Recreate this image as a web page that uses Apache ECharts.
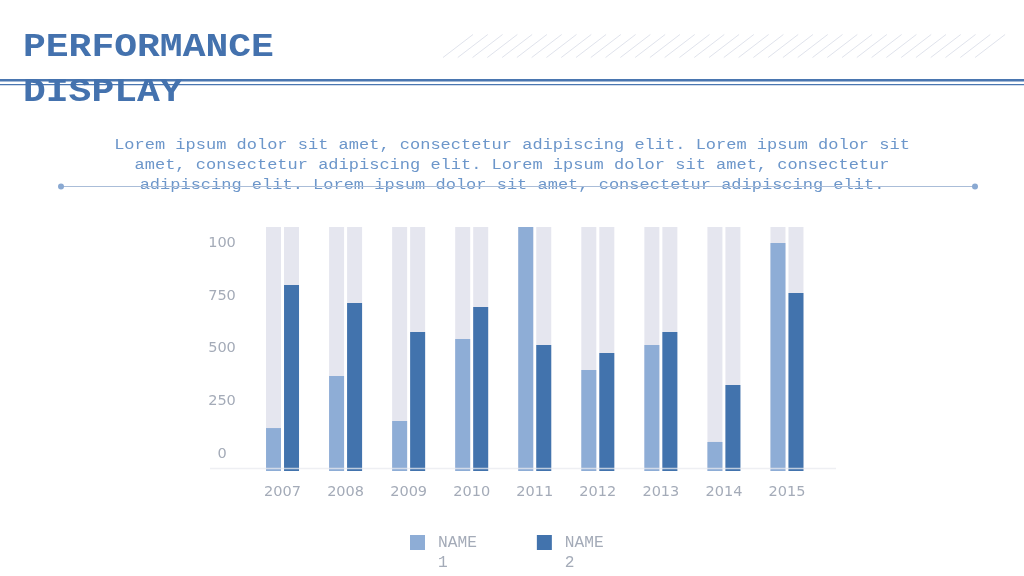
<!DOCTYPE html>
<html>
<head>
<meta charset="utf-8">
<script src="https://cdn.jsdelivr.net/npm/echarts@6/dist/echarts.min.js"></script>
<style>html,body{margin:0;padding:0;background:#fff;}#c{width:1024px;height:576px;}</style>
</head>
<body>
<div id="c"></div>
<script>
var categories = ['2007','2008','2009','2010','2011','2012','2013','2014','2015'];
var seriesNames = ['NAME 1','NAME 2'];
var name1Values = [176, 389, 205, 541, 1000, 414, 516, 119, 934];
var name2Values = [762, 689, 570, 672, 516, 484, 570, 352, 730];
var yTickValues = [0, 250, 500, 750, 1000];
var yTickLabels = ['0', '250', '500', '750', '100'];
var titleLines = ['PERFORMANCE', 'DISPLAY'];
var bodyLines = [
  'Lorem ipsum dolor sit amet, consectetur adipiscing elit. Lorem ipsum dolor sit',
  'amet, consectetur adipiscing elit. Lorem ipsum dolor sit amet, consectetur',
  'adipiscing elit. Lorem ipsum dolor sit amet, consectetur adipiscing elit.'
];

var chart = echarts.init(document.getElementById('c'));

var hatch = [];
for (var i = 0; i < 37; i++) {
  var x0 = 443 + i * 14.78;
  hatch.push({
    type: 'line', silent: true,
    shape: {x1: x0, y1: 57.5, x2: x0 + 30, y2: 34.5},
    style: {stroke: '#e0e3ec', lineWidth: 1}
  });
}

var sY = 0.87;
var graphics = hatch.concat([
  {type: 'rect', silent: true, shape: {x: 0, y: 79, width: 1024, height: 2.5}, style: {fill: '#4a76b0'}},
  {type: 'rect', silent: true, shape: {x: 0, y: 84, width: 1024, height: 1.2}, style: {fill: '#4a76b0'}},
  {type: 'text', silent: true, x: 23, y: 25, scaleY: sY, z: 5,
    style: {text: titleLines.join('\n'), align: 'left', verticalAlign: 'top',
      font: 'bold 38px "Liberation Mono"', lineHeight: 45 / sY, fill: '#4472ae'}},
  {type: 'text', silent: true, x: 512, y: 135, scaleY: sY, z: 5,
    style: {text: bodyLines.join('\n'), align: 'center', verticalAlign: 'top',
      font: 'normal 17px "Liberation Mono"', lineHeight: 20 / sY, fill: '#6c96ca'}},
  {type: 'line', silent: true, z: 10, shape: {x1: 61, y1: 186.5, x2: 975, y2: 186.5}, style: {stroke: '#aabdd8', lineWidth: 1}},
  {type: 'circle', silent: true, z: 10, shape: {cx: 61, cy: 186.5, r: 3}, style: {fill: '#8aa9d2'}},
  {type: 'circle', silent: true, z: 10, shape: {cx: 975, cy: 186.5, r: 3}, style: {fill: '#8aa9d2'}},
  {type: 'line', silent: true, z: 100, shape: {x1: 210, y1: 468.5, x2: 836, y2: 468.5}, style: {stroke: 'rgba(232,233,239,0.75)', lineWidth: 1.5}}
]);

var option = {
  backgroundColor: '#ffffff',
  animation: false,
  legend: {
    data: seriesNames, left: 405, top: 507.5,
    icon: 'rect', itemWidth: 15, itemHeight: 15, itemGap: 60,
    formatter: function (n) { return '\n' + n.replace(' ', '\n'); },
    textStyle: {fontFamily: 'Liberation Mono', fontSize: 16.2, color: '#a4abb8', lineHeight: 20, padding: [0, 0, 0, 8]}
  },
  grid: [
    {left: 251, right: 205.5, top: 227, bottom: 105},
    {left: 230, width: 20, top: 243, bottom: 122}
  ],
  xAxis: [
    {
      type: 'category', data: categories, gridIndex: 0,
      axisLine: {show: false}, axisTick: {show: false},
      axisLabel: {margin: 14, fontFamily: 'DejaVu Sans', fontSize: 14.5, color: '#a4abb8'}
    },
    {type: 'value', gridIndex: 1, show: false}
  ],
  yAxis: [
    {type: 'value', gridIndex: 0, min: 0, max: 1000, show: false},
    {
      type: 'value', gridIndex: 1, min: 0, max: 1000, interval: 250,
      axisLine: {show: false}, axisTick: {show: false}, splitLine: {show: false},
      axisLabel: {
        align: 'center', margin: 8, fontFamily: 'DejaVu Sans', fontSize: 14.5, color: '#a4abb8',
        formatter: function (v) { var k = yTickValues.indexOf(v); return k >= 0 ? yTickLabels[k] : ''; }
      }
    }
  ],
  series: [
    {
      name: seriesNames[0], type: 'bar', data: name1Values, xAxisIndex: 0, yAxisIndex: 0,
      barWidth: 15, barGap: '20%', showBackground: true,
      backgroundStyle: {color: '#e5e6ef'},
      itemStyle: {color: '#8eadd6'}
    },
    {
      name: seriesNames[1], type: 'bar', data: name2Values, xAxisIndex: 0, yAxisIndex: 0,
      barWidth: 15, barGap: '20%', showBackground: true,
      backgroundStyle: {color: '#e5e6ef'},
      itemStyle: {color: '#4273ad'}
    }
  ],
  graphic: graphics
};
chart.setOption(option);
</script>
</body>
</html>
